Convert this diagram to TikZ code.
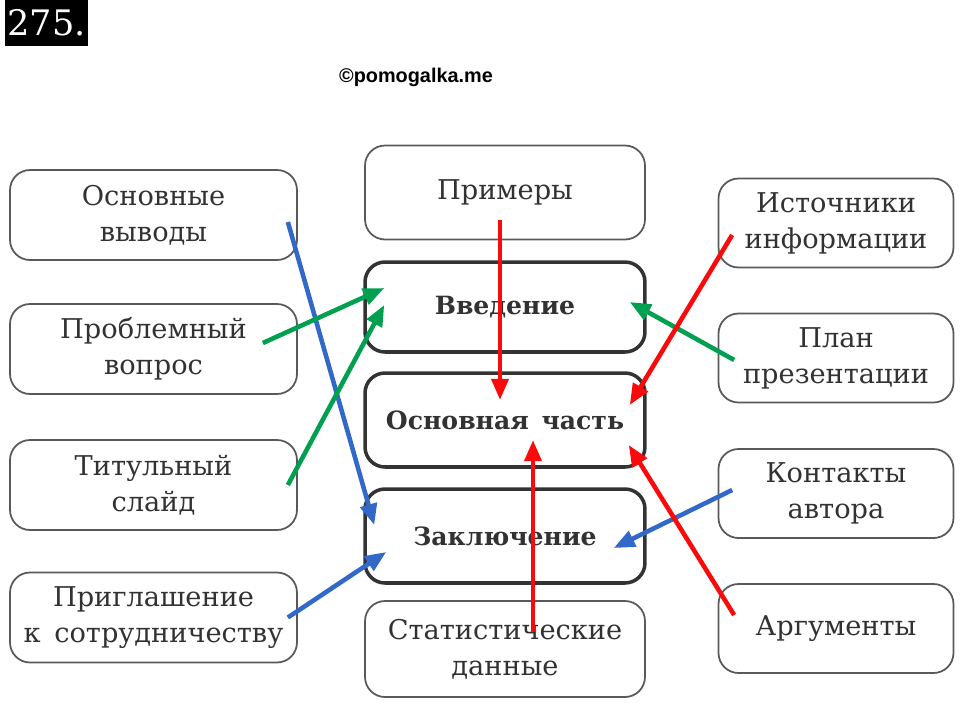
\documentclass[tikz,border=0pt]{standalone}
\usepackage{fontspec}
\setmainfont{DejaVu Serif}
\newfontfamily\wmfont{Liberation Sans}
\usetikzlibrary{positioning,calc,arrows.meta}
\definecolor{lnred}{RGB}{250,10,10}
\definecolor{lngreen}{RGB}{0,160,80}
\definecolor{lnblue}{RGB}{50,105,200}
\definecolor{boxtext}{RGB}{50,50,50}

\begin{document}
\begin{tikzpicture}[x=0.02cm,y=-0.02cm]
\tikzset{
    sidebox/.style={rectangle, rounded corners=0.4cm, draw=black!65, line width=1pt, align=center, text=boxtext, font=\fontsize{15.5}{20.5}\selectfont},
    leftbox/.style={sidebox, minimum width=5.74cm, minimum height=1.8cm},
    midbox/.style={sidebox, minimum width=5.6cm, minimum height=1.88cm},
    mainbox/.style={midbox, line width=2pt, draw=black!80, font=\bfseries\fontsize{14.3}{20}\selectfont},
    rightbox/.style={sidebox, minimum width=4.7cm, minimum height=1.78cm},
    arrow/.style={-{Triangle[length=12pt,width=9.5pt]}, line width=2.6pt}
}
\useasboundingbox (0,0) rectangle (960,704);
\node[fill=black, text=white, minimum width=1.66cm, minimum height=0.92cm, inner sep=0pt, font=\fontsize{20}{20}\selectfont] (num) at (46.5,23) {275.};
\node[font=\wmfont\bfseries\fontsize{11.3}{13}\selectfont] (wm) at (416,77) {©pomogalka.me};
\node[leftbox] (vyvody) at (153.5,215) {Основные\\выводы};
\node[leftbox] (problem) at (153.5,349) {Проблемный\\вопрос};
\node[leftbox] (titul) at (153.5,485) {Титульный\\слайд};
\node[leftbox] (prigl) at (153.5,617.5) {Приглашение\\к\enspace сотрудничеству};
\node[midbox] (primery) at (505,192.5) {Примеры};
\node[mainbox, minimum height=1.8cm] (vved) at (505,307) {Введение};
\node[mainbox] (osn) at (505,420) {Основная\enspace часть};
\node[mainbox] (zakl) at (505,536) {Заключение};
\node[midbox, minimum height=1.92cm] (stat) at (505,649) {Статистические\\данные};
\node[rightbox] (istoch) at (836,223) {Источники\\информации};
\node[rightbox] (plan) at (836,358) {План\\презентации};
\node[rightbox] (kont) at (836,493.5) {Контакты\\автора};
\node[rightbox] (arg) at (836,628.5) {Аргументы};
\draw[arrow, lnblue] ($(vyvody.east)+(-10,7)$) -- ($(zakl.west)+(11,-11)$);
\draw[arrow, lngreen] ($(problem.east)+(-35,-6)$) -- ($(vved.west)+(21,-19)$);
\draw[arrow, lngreen] ($(titul.east)+(-10,0)$) -- ($(vved.west)+(21,-2)$);
\draw[arrow, lnblue] ($(prigl.east)+(-10,0)$) -- ($(zakl.west)+(23,16)$);
\draw[arrow, lnred] ($(primery.center)+(-5,27.5)$) -- ($(osn.center)+(-5,-20)$);
\draw[arrow, lnred] ($(stat.center)+(28,-17)$) -- ($(osn.center)+(28,20)$);
\draw[arrow, lngreen] ($(plan.west)+(16.5,2)$) -- ($(vved.east)+(-17,-5)$);
\draw[arrow, lnred] ($(istoch.west)+(14.5,12)$) -- ($(osn.east)+(-17,-15)$);
\draw[arrow, lnblue] ($(kont.west)+(14.5,-3.5)$) -- ($(zakl.east)+(-33,12)$);
\draw[arrow, lnred] ($(arg.west)+(16.5,-13.5)$) -- ($(osn.east)+(-18,25)$);
\end{tikzpicture}
\end{document}
